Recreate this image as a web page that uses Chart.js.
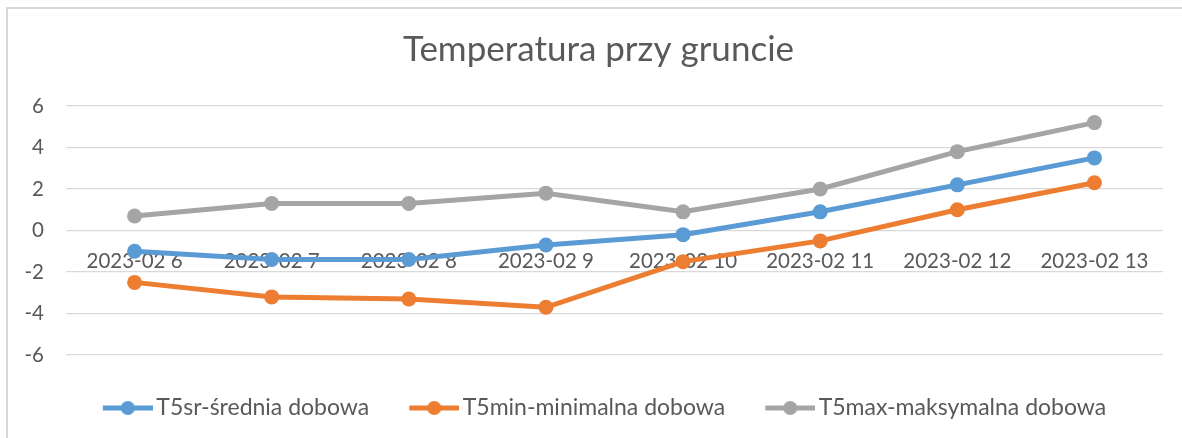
<!DOCTYPE html>
<html>
<head>
<meta charset="utf-8">
<script src="https://cdn.jsdelivr.net/npm/chart.js@4.4.0/dist/chart.umd.min.js"></script>
<style>
  html, body { margin: 0; padding: 0; background: #ffffff; overflow: hidden; }
  #wrap { position: relative; width: 1182px; height: 438px; }
  #frame { position: absolute; left: 6px; top: 7px; width: 2000px; height: 2000px;
           border-left: 2px solid #d9d9d9; border-top: 2px solid #d9d9d9; pointer-events: none; }
</style>
</head>
<body>
<div id="wrap">
  <canvas id="c" width="1182" height="438"></canvas>
  <div id="frame"></div>
</div>
<script>
const categories = ['2023-02 6', '2023-02 7', '2023-02 8', '2023-02 9', '2023-02 10', '2023-02 11', '2023-02 12', '2023-02 13'];
const seriesNames = ['T5sr-średnia dobowa', 'T5min-minimalna dobowa', 'T5max-maksymalna dobowa'];
const t5sr  = [-1.0, -1.4, -1.4, -0.7, -0.2, 0.9, 2.2, 3.5];
const t5min = [-2.5, -3.2, -3.3, -3.7, -1.5, -0.5, 1.0, 2.3];
const t5max = [0.7, 1.3, 1.3, 1.8, 0.9, 2.0, 3.8, 5.2];
const yMin = -6, yMax = 6, yStep = 2;

const colors = ['#5B9BD5', '#ED7D31', '#A5A5A5'];
const FONT = 'Lato';

// legend icon: blank lead-in E, then a 50px line with a centred dot
const E = 18;
function legendIcon(color) {
  const cv = document.createElement('canvas');
  cv.width = 50 + E; cv.height = 18;
  const g = cv.getContext('2d');
  g.strokeStyle = color; g.lineWidth = 5; g.lineCap = 'butt';
  g.beginPath(); g.moveTo(E, 9); g.lineTo(E + 50, 9); g.stroke();
  g.fillStyle = color;
  g.beginPath(); g.arc(E + 25, 9, 7, 0, Math.PI * 2); g.fill();
  return cv;
}
const icons = colors.map(legendIcon);

function mkDataset(label, data, color) {
  return {
    label, data,
    borderColor: color, backgroundColor: color,
    borderWidth: 5, pointRadius: 7.5, pointHoverRadius: 7.5,
    pointBackgroundColor: color, pointBorderWidth: 0,
    tension: 0, fill: false
  };
}

const shiftPlugin = {
  id: 'shiftBlocks',
  afterLayout(chart) {
    if (chart.titleBlock) { chart.titleBlock.left += 7; chart.titleBlock.right += 7; }
    if (chart.legend) { chart.legend.left += 8; chart.legend.right += 8; }
  }
};

new Chart(document.getElementById('c'), {
  type: 'line',
  data: {
    labels: categories,
    datasets: [
      mkDataset(seriesNames[0], t5sr, colors[0]),
      mkDataset(seriesNames[1], t5min, colors[1]),
      mkDataset(seriesNames[2], t5max, colors[2])
    ]
  },
  plugins: [shiftPlugin],
  options: {
    responsive: false,
    animation: false,
    layout: { padding: { left: 20, right: 19, top: 0, bottom: 8.5 } },
    plugins: {
      tooltip: { enabled: false },
      title: {
        display: true,
        text: 'Temperatura przy gruncie',
        color: '#595959',
        font: { family: FONT, size: 35, weight: 'normal', lineHeight: 1.2 },
        padding: { top: 29, bottom: 35 }
      },
      legend: {
        display: true,
        position: 'bottom',
        title: { display: true, text: ' ', font: { size: 10, lineHeight: 1 }, padding: { top: 1.5, bottom: 0 } },
        labels: {
          color: '#595959',
          font: { family: FONT, size: 23 },
          usePointStyle: true,
          pointStyleWidth: 34 + E,
          boxHeight: 18,
          padding: 30,
          generateLabels: (chart) => chart.data.datasets.map((ds, i) => ({
            text: ds.label,
            fillStyle: colors[i],
            strokeStyle: colors[i],
            lineWidth: 0,
            pointStyle: icons[i],
            hidden: false,
            datasetIndex: i,
            fontColor: '#595959'
          }))
        }
      }
    },
    scales: {
      x: {
        type: 'category',
        position: { y: 0 },
        offset: true,
        z: 1,
        grid: { display: false, drawTicks: false },
        border: { display: false },
        ticks: {
          color: '#595959',
          font: { family: FONT, size: 20.5 },
          padding: 19,
          maxRotation: 0,
          autoSkip: false
        }
      },
      y: {
        min: yMin, max: yMax,
        afterFit: (s) => { s.width = 46; },
        grid: { color: '#d9d9d9', lineWidth: 1.3, drawTicks: false },
        border: { display: false },
        ticks: {
          stepSize: yStep,
          color: '#595959',
          font: { family: FONT, size: 20.5 },
          padding: 22
        }
      }
    }
  }
});
</script>
</body>
</html>
